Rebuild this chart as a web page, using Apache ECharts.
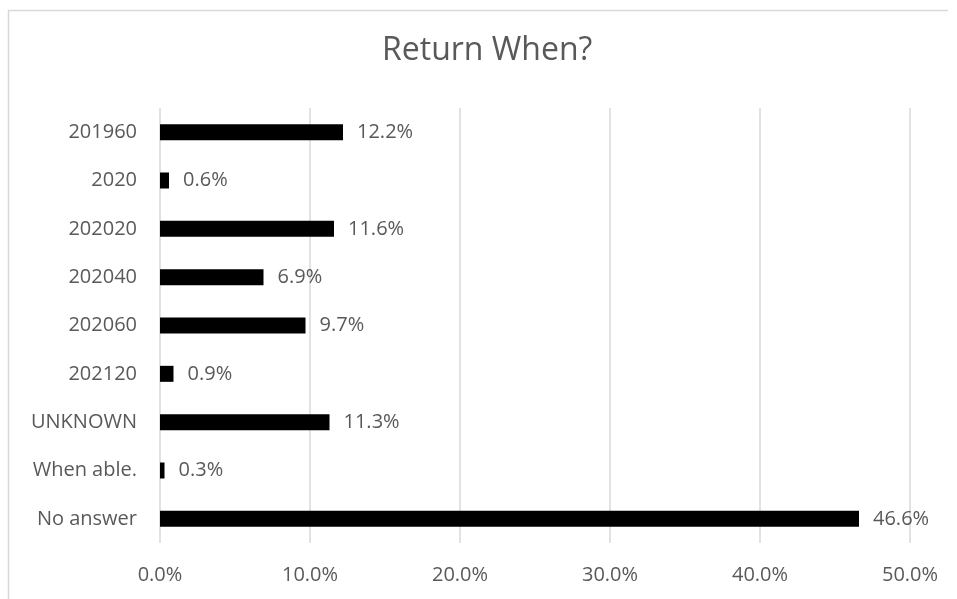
<!DOCTYPE html>
<html>
<head>
<meta charset="utf-8">
<script src="https://cdn.jsdelivr.net/npm/echarts@6/dist/echarts.min.js"></script>
<style>
html,body{margin:0;padding:0;background:#fff;}
#c{width:957px;height:599px;}
</style>
</head>
<body>
<div id="c"></div>
<script>
const categories = ['201960','2020','202020','202040','202060','202120','UNKNOWN','When able.','No answer'];
const values = [12.2, 0.6, 11.6, 6.9, 9.7, 0.9, 11.3, 0.3, 46.6];
const xTicks = [0, 10, 20, 30, 40, 50];
const titleText = 'Return When?';

const FONT = '"Open Sans", "Noto Sans", sans-serif';
const TXT = '#595959';
const chart = echarts.init(document.getElementById('c'), null, {renderer:'canvas'});
chart.setOption({
  animation: false,
  backgroundColor: '#fff',
  title: {
    text: titleText,
    left: 382,
    top: 35,
    padding: 0,
    textStyle: {fontFamily: FONT, fontSize: 32, fontWeight: 'normal', color: TXT}
  },
  graphic: [{
    type: 'polyline',
    shape: {points: [[8.5, 600], [8.5, 10.5], [948, 10.5]]},
    style: {stroke: '#d9d9d9', lineWidth: 1.5, fill: null},
    silent: true
  }],
  grid: {left: 160, right: 47, top: 108, bottom: 56, containLabel: false},
  xAxis: {
    type: 'value',
    min: xTicks[0],
    max: xTicks[xTicks.length - 1],
    interval: 10,
    axisLine: {show: false},
    axisTick: {show: false},
    splitLine: {show: true, lineStyle: {color: '#d9d9d9', width: 1.5}},
    axisLabel: {
      margin: 22,
      fontFamily: FONT, fontSize: 20, color: TXT,
      formatter: v => v.toFixed(1) + '%'
    }
  },
  yAxis: {
    type: 'category',
    data: categories,
    inverse: true,
    axisLine: {show: false},
    axisTick: {show: false},
    axisLabel: {margin: 23, fontFamily: FONT, fontSize: 20, color: TXT}
  },
  series: [{
    type: 'bar',
    data: values,
    barWidth: 16,
    itemStyle: {color: '#000'},
    label: {
      show: true,
      position: 'right',
      distance: 14,
      fontFamily: FONT, fontSize: 20, color: TXT,
      formatter: p => p.value.toFixed(1) + '%'
    }
  }]
});
</script>
</body>
</html>
